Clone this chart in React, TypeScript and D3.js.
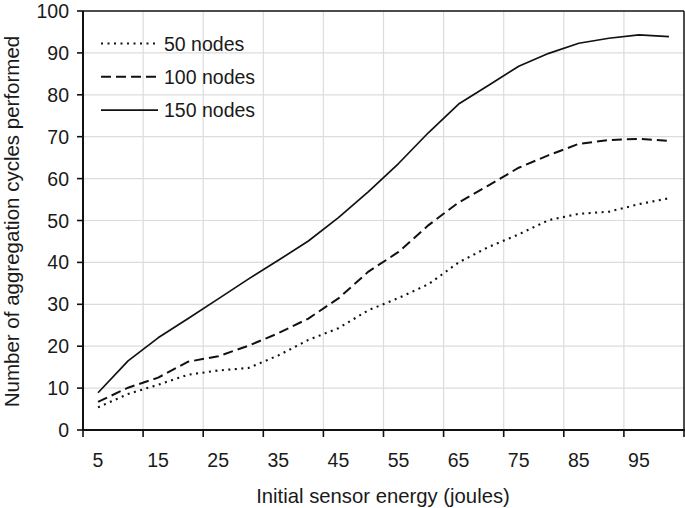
import React from "react";
import * as d3 from "d3";

const energies = [5, 10, 15, 20, 25, 30, 35, 40, 45, 50, 55, 60, 65, 70, 75, 80, 85, 90, 95, 100];
const nodes50 = [5.4, 8.6, 10.8, 13.2, 14.2, 14.8, 17.8, 21.5, 24.3, 28.6, 31.5, 34.8, 40.0, 43.7, 46.7, 50.1, 51.6, 52.1, 53.9, 55.3];
const nodes100 = [6.7, 10.1, 12.5, 16.3, 17.6, 20.1, 23.1, 26.6, 31.4, 37.8, 42.5, 48.9, 54.3, 58.4, 62.6, 65.6, 68.3, 69.2, 69.5, 69.0];
const nodes150 = [8.9, 16.5, 22.0, 26.6, 31.3, 36.0, 40.5, 45.1, 50.7, 56.9, 63.6, 71.0, 77.8, 82.3, 86.8, 89.9, 92.3, 93.5, 94.3, 93.9];
const xTickLabels = [5, 15, 25, 35, 45, 55, 65, 75, 85, 95];
const yTicks = [0, 10, 20, 30, 40, 50, 60, 70, 80, 90, 100];
const seriesNames = ["50 nodes", "100 nodes", "150 nodes"];

const W = 685, H = 508;
const L = 83, R = 684, T = 11, B = 430;
const FONT = "'Liberation Sans', Arial, Helvetica, sans-serif";

export default function App() {
  const x = d3.scaleBand<number>().domain(energies).range([L, R]).padding(0);
  const bw = x.bandwidth();
  const cx = (e: number) => (x(e) as number) + bw / 2;
  const y = d3.scaleLinear().domain([0, 100]).range([B, T]);

  const series = [
    { name: seriesNames[0], values: nodes50, dash: "2,4.5", width: 2.1 },
    { name: seriesNames[1], values: nodes100, dash: "10,5", width: 2 },
    { name: seriesNames[2], values: nodes150, dash: "none", width: 1.7 },
  ];

  const line = d3
    .line<number>()
    .x((_, i) => cx(energies[i]))
    .y((v) => y(v));

  const tickXs: number[] = [];
  energies.forEach((e, i) => {
    if (i % 2 === 0) tickXs.push(x(e) as number);
  });
  tickXs.push(R);

  return (
    <svg
      width={W}
      height={H}
      style={{ position: "absolute", left: 0, top: 0, background: "#fff" }}
      fontFamily={FONT}
    >
      <rect x={0} y={0} width={W} height={H} fill="#fff" />
      {yTicks.slice(1, -1).map((t) => (
        <line key={"gy" + t} x1={L} x2={R} y1={y(t)} y2={y(t)} stroke="#dcdcdc" strokeWidth={1.2} />
      ))}
      {tickXs.slice(1, -1).map((tx, i) => (
        <line key={"gx" + i} x1={tx} x2={tx} y1={T} y2={B} stroke="#dcdcdc" strokeWidth={1.2} />
      ))}
      <line x1={L} x2={R} y1={T} y2={T} stroke="#111" strokeWidth={1.5} />
      <line x1={R} x2={R} y1={T} y2={B} stroke="#111" strokeWidth={1.5} />
      <line x1={L} x2={L} y1={T} y2={B + 1} stroke="#111" strokeWidth={2} />
      <line x1={L - 1} x2={R + 1} y1={B} y2={B} stroke="#111" strokeWidth={2} />
      {yTicks.map((t) => (
        <g key={"yt" + t}>
          <line x1={L - 6} x2={L} y1={y(t)} y2={y(t)} stroke="#111" strokeWidth={1.6} />
          <text x={L - 14} y={y(t)} dy="0.36em" textAnchor="end" fontSize={19.5} fill="#1a1a1a">
            {t}
          </text>
        </g>
      ))}
      {tickXs.map((tx, i) => (
        <line key={"xt" + i} x1={tx} x2={tx} y1={B} y2={B + 7} stroke="#111" strokeWidth={1.6} />
      ))}
      {xTickLabels.map((e) => (
        <text key={"xl" + e} x={cx(e)} y={467} textAnchor="middle" fontSize={19.5} fill="#1a1a1a">
          {e}
        </text>
      ))}
      <text x={383} y={503} textAnchor="middle" fontSize={20.3} fill="#1a1a1a">
        Initial sensor energy (joules)
      </text>
      <text
        transform={`translate(19,${(T + B) / 2 + 1}) rotate(-90)`}
        textAnchor="middle"
        fontSize={20.5}
        fill="#1a1a1a"
      >
        Number of aggregation cycles performed
      </text>
      {series.map((s) => (
        <path
          key={s.name}
          d={line(s.values) || ""}
          fill="none"
          stroke="#111"
          strokeWidth={s.width}
          strokeDasharray={s.dash}
          strokeLinejoin="round"
        />
      ))}
      {series.map((s, i) => {
        const ly = 43.5 + i * 33.3;
        return (
          <g key={"lg" + s.name}>
            <line x1={101} x2={158} y1={ly} y2={ly} stroke="#111" strokeWidth={s.width} strokeDasharray={s.dash} />
            <text x={164} y={ly} dy="0.36em" fontSize={19.5} fill="#1a1a1a">
              {s.name}
            </text>
          </g>
        );
      })}
    </svg>
  );
}
